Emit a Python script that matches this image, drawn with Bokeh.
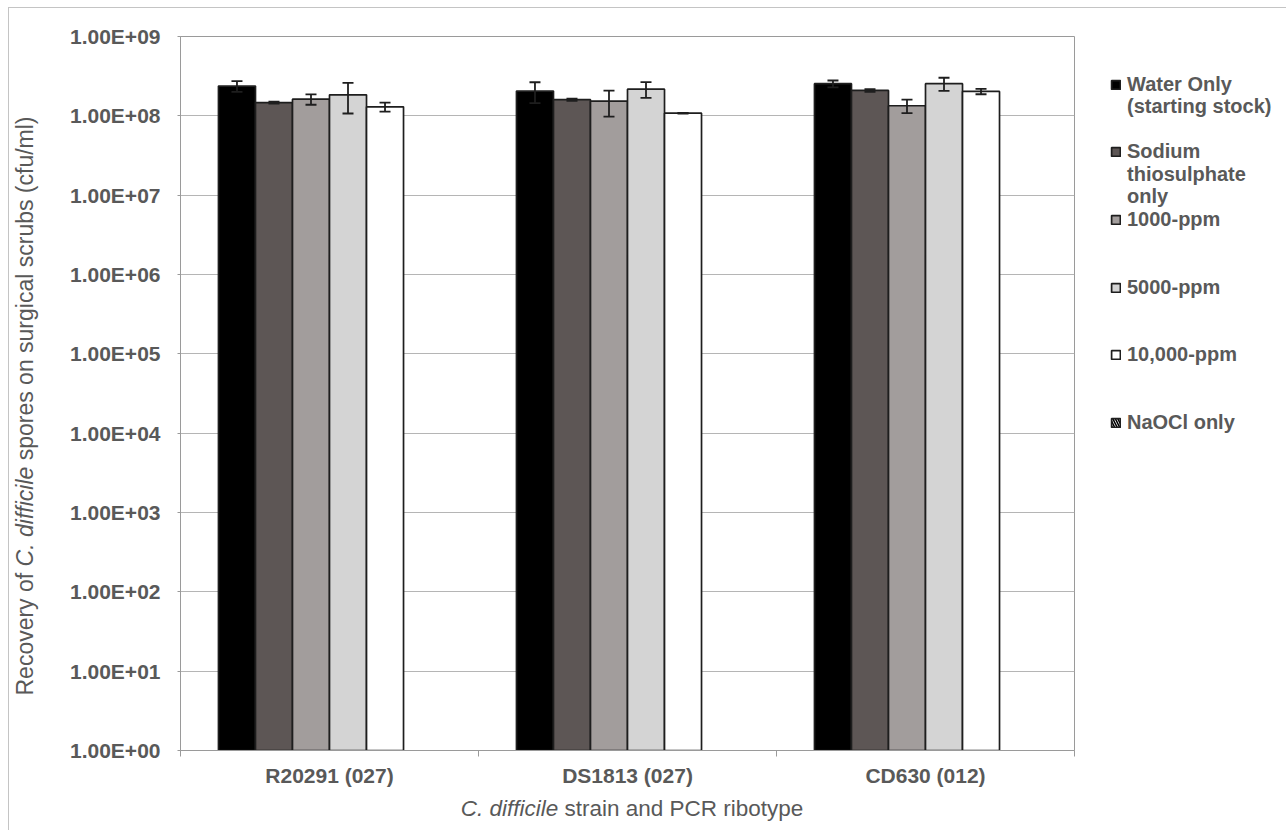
import math
from bokeh.plotting import figure
from bokeh.layouts import row, column
from bokeh.models import (Range1d, FixedTicker, CustomJSTickFormatter, Whisker, TeeHead,
                          ColumnDataSource, Legend, LegendItem, Div)
from bokeh.embed import file_html
from bokeh.resources import INLINE

# ---------------- data ----------------
strains = ["R20291 (027)", "DS1813 (027)", "CD630 (012)"]
series_names = ["Water Only\n(starting stock)", "Sodium\nthiosulphate\nonly", "1000-ppm",
                "5000-ppm", "10,000-ppm", "NaOCl only"]

water_only = [2.37e8, 2.05e8, 2.54e8]
water_only_err = [0.37e8, 0.60e8, 0.25e8]
sodium_thio = [1.47e8, 1.60e8, 2.09e8]
sodium_thio_err = [0.04e8, 0.05e8, 0.08e8]
ppm_1000 = [1.62e8, 1.53e8, 1.34e8]
ppm_1000_err = [0.24e8, 0.55e8, 0.26e8]
ppm_5000 = [1.84e8, 2.17e8, 2.54e8]
ppm_5000_err = [0.77e8, 0.49e8, 0.48e8]
ppm_10000 = [1.30e8, 1.08e8, 2.03e8]
ppm_10000_err = [0.17e8, 0.01e8, 0.16e8]
naocl_only = [float("nan")] * 3
naocl_only_err = [float("nan")] * 3

y_ticks = [1e0, 1e1, 1e2, 1e3, 1e4, 1e5, 1e6, 1e7, 1e8, 1e9]
y_tick_labels = ["1.00E+00", "1.00E+01", "1.00E+02", "1.00E+03", "1.00E+04",
                 "1.00E+05", "1.00E+06", "1.00E+07", "1.00E+08", "1.00E+09"]

y_title_html = "Recovery of <i>C. difficile</i> spores on surgical scrubs (cfu/ml)"
x_title_html = "<i>C. difficile</i>&nbsp;strain and PCR ribotype"

series_values = [water_only, sodium_thio, ppm_1000, ppm_5000, ppm_10000, naocl_only]
series_errors = [water_only_err, sodium_thio_err, ppm_1000_err, ppm_5000_err, ppm_10000_err, naocl_only_err]

# ---------------- style ----------------
fills = ["#000000", "#5d5655", "#a29d9c", "#d4d4d4", "#ffffff", "#ffffff"]
hatch = [None, None, None, None, None, "\\"]
FONT = "Liberation Sans"
TXT = "#595959"
AXIS_C = "#9a9a9a"
GRID_C = "#b5b5b5"
EDGE = "#1e1e1e"

FIG_W, FIG_H = 1026, 786
YLAB_W, XLAB_H = 44, 36
LEG_W = 207


def bar_style(j):
    st = dict(fill_color=fills[j], line_color=EDGE, line_width=1.7)
    if hatch[j]:
        st.update(hatch_pattern=hatch[j], hatch_color="black", hatch_scale=5, hatch_weight=1.6)
    return st


p = figure(width=FIG_W, height=FIG_H, x_range=Range1d(0, 3), y_range=Range1d(y_ticks[0], y_ticks[-1]),
           y_axis_type="log", output_backend="svg", toolbar_location=None,
           min_border_left=127, min_border_right=5, min_border_top=28, min_border_bottom=44)
p.outline_line_color = AXIS_C
p.background_fill_color = "white"
p.border_fill_color = "white"

# y axis
p.yaxis.ticker = FixedTicker(ticks=y_ticks, minor_ticks=[])
p.yaxis.formatter = CustomJSTickFormatter(args=dict(labels=y_tick_labels),
                                          code="return labels[Math.round(Math.log10(tick))];")
p.yaxis.axis_line_color = AXIS_C
p.yaxis.major_tick_line_color = AXIS_C
p.yaxis.major_tick_out = 3
p.yaxis.major_tick_in = 0
p.yaxis.major_label_standoff = 17
p.yaxis.major_label_text_font = FONT
p.yaxis.major_label_text_font_style = "bold"
p.yaxis.major_label_text_font_size = "21px"
p.yaxis.major_label_text_color = TXT
p.ygrid.ticker = FixedTicker(ticks=y_ticks, minor_ticks=[])
p.ygrid.grid_line_color = GRID_C
p.xgrid.visible = False

# x axis
n = len(strains)
p.xaxis.ticker = FixedTicker(ticks=[i + 0.5 for i in range(n)], minor_ticks=list(range(n + 1)))
p.xaxis.formatter = CustomJSTickFormatter(args=dict(labels=strains),
                                          code="return labels[Math.floor(tick)];")
p.xaxis.axis_line_color = AXIS_C
p.xaxis.major_tick_line_color = None
p.xaxis.minor_tick_line_color = AXIS_C
p.xaxis.minor_tick_out = 6
p.xaxis.minor_tick_in = 0
p.xaxis.major_label_standoff = 7
p.xaxis.major_label_text_font = FONT
p.xaxis.major_label_text_font_style = "bold"
p.xaxis.major_label_text_font_size = "21px"
p.xaxis.major_label_text_color = TXT

# bars + error bars
w = 0.1242
nser = len(series_names)
sources = []
for j in range(nser):
    vals = series_values[j]
    errs = series_errors[j]
    xs = [i + 0.5 + (j - (nser - 1) / 2) * w for i in range(n)]
    src = ColumnDataSource(dict(x=xs, top=vals,
                                upper=[v + e for v, e in zip(vals, errs)],
                                lower=[v - e for v, e in zip(vals, errs)]))
    sources.append(src)
    p.vbar(x="x", top="top", bottom=y_ticks[0], width=w, source=src, **bar_style(j))
    if not all(math.isnan(v) for v in vals):
        wh = Whisker(source=src, base="x", upper="upper", lower="lower", dimension="height",
                     line_color=EDGE, line_width=1.8, level="overlay",
                     upper_head=TeeHead(size=11, line_color=EDGE, line_width=1.8),
                     lower_head=TeeHead(size=11, line_color=EDGE, line_width=1.8))
        p.add_layout(wh)

# ---------------- legend panel (separate canvas, so nothing is clipped) ----------------
lf = figure(width=LEG_W, height=FIG_H, output_backend="svg", toolbar_location=None,
            x_axis_location=None, y_axis_location=None, min_border=0,
            x_range=Range1d(0, 1), y_range=Range1d(0, 1))
lf.outline_line_color = None
lf.grid.visible = False

# line centres (px from canvas top) of every legend text line, as in the Excel legend
line_tops = [[77, 99], [144, 167, 189], [212], [280], [347], [415]]
LEG_X = 31
for j in range(nser):
    # legend keys: same series source and style, hidden on this canvas
    key = lf.vbar(x="x", top="top", width=w, source=sources[j], visible=False, **bar_style(j))
    blank = lf.vbar(x="x", top="top", width=w, source=sources[j], visible=False,
                    fill_alpha=0, line_alpha=0)
    for k, line in enumerate(series_names[j].split("\n")):
        yc = line_tops[j][k]
        leg = Legend(items=[LegendItem(label=line, renderers=[key if k == 0 else blank])],
                     location=(LEG_X, FIG_H - yc - 11), padding=0, margin=0, spacing=0,
                     border_line_color=None, background_fill_alpha=0,
                     inactive_fill_alpha=0,
                     glyph_width=11, glyph_height=11, label_standoff=6, label_height=22,
                     label_text_font=FONT, label_text_font_style="bold",
                     label_text_font_size="20px", label_text_color=TXT)
        lf.add_layout(leg)

# ---------------- axis titles with mixed italic text (HTML) ----------------
css = "white-space:nowrap;font-family:'Liberation Sans',Arial,sans-serif;color:%s;" % TXT
ylab = Div(width=YLAB_W, height=FIG_H, margin=0,
           text=("<div style=\"position:relative;width:%dpx;height:%dpx;\">"
                 "<div style=\"position:absolute;left:16px;top:398px;transform:translate(-50%%,-50%%) rotate(-90deg);font-size:23px;%s\">%s</div>"
                 "</div>") % (YLAB_W, FIG_H, css, y_title_html))
xlab = Div(width=FIG_W, height=XLAB_H, margin=0,
           text=("<div style=\"position:relative;width:%dpx;height:%dpx;\">"
                 "<div style=\"position:absolute;left:579px;top:15px;transform:translate(-50%%,-50%%);font-size:22.5px;%s\">%s</div>"
                 "</div>") % (FIG_W, XLAB_H, css, x_title_html))

root = row(ylab, column(p, xlab), lf)
root.styles = {"margin-left": "8px", "margin-top": "7px",
               "border-top": "1px solid #c4c4c4", "border-left": "1px solid #c4c4c4"}

open("out.html", "w").write(file_html(root, INLINE))
